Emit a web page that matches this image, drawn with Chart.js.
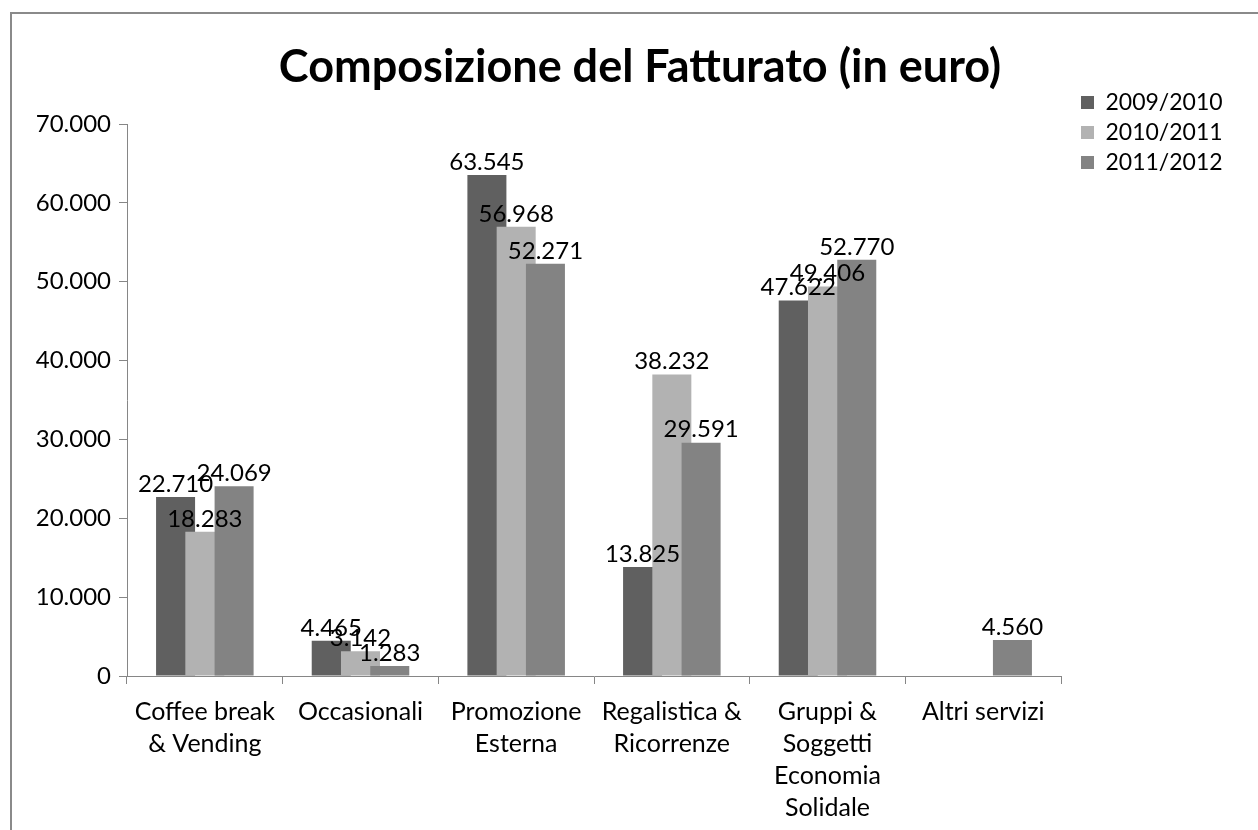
<!DOCTYPE html>
<html>
<head>
<meta charset="utf-8">
<script src="https://cdn.jsdelivr.net/npm/chart.js@4.4.1/dist/chart.umd.min.js"></script>
<style>
  html, body { margin: 0; padding: 0; background: #fff; overflow: hidden; }
  #wrap { position: relative; width: 1258px; height: 830px; }
  #frame { position: absolute; left: 10px; top: 12px; width: 1300px; height: 900px; border: 2px solid #8a8a8a; box-sizing: border-box; }
  canvas { position: absolute; left: 0; top: 0; }
</style>
</head>
<body>
<div id="wrap">
  <div id="frame"></div>
  <canvas id="c" width="1258" height="830"></canvas>
</div>
<script>
const chartTitle = 'Composizione del Fatturato (in euro)';
const categories = [
  ['Coffee break', '& Vending'],
  'Occasionali',
  ['Promozione', 'Esterna'],
  ['Regalistica &', 'Ricorrenze'],
  ['Gruppi &', 'Soggetti', 'Economia', 'Solidale'],
  'Altri servizi'
];
const seriesNames = ['2009/2010', '2010/2011', '2011/2012'];
const values2009 = [22710, 4465, 63545, 13825, 47622, null];
const values2010 = [18283, 3142, 56968, 38232, 49406, null];
const values2011 = [24069, 1283, 52271, 29591, 52770, 4560];
const yTicks = [0, 10000, 20000, 30000, 40000, 50000, 60000, 70000];

const seriesColors = ['#606060', '#b2b2b2', '#838383'];
const FONT = 'Lato';
const AXIS = '#868686';

function fmt(v) {
  return String(v).replace(/\B(?=(\d{3})+(?!\d))/g, '.');
}

const allSeries = [values2009, values2010, values2011];

// draw datasets in natural order so later series overlap earlier ones (as in Excel)
const drawOrderPlugin = {
  id: 'drawOrder',
  beforeDatasetsDraw(chart) {
    for (let i = 0; i < chart.data.datasets.length; i++) {
      const meta = chart.getDatasetMeta(i);
      if (!meta.hidden) meta.controller.draw();
    }
    return false;
  }
};

const labelPlugin = {
  id: 'valueLabels',
  afterDraw(chart) {
    const ctx = chart.ctx;
    ctx.save();
    ctx.font = '24px ' + FONT;
    ctx.fillStyle = '#000';
    ctx.textAlign = 'center';
    ctx.textBaseline = 'bottom';
    chart.data.datasets.forEach((ds, i) => {
      const meta = chart.getDatasetMeta(i);
      meta.data.forEach((el, j) => {
        const v = ds.data[j];
        if (v === null || v === undefined) return;
        ctx.fillText(fmt(v), el.x, el.y - 1);
      });
    });
    ctx.restore();
  }
};

const placePlugin = {
  id: 'place',
  afterLayout(chart) {
    const lg = chart.legend;
    if (lg) {
      const w = lg.width, h = lg.height;
      lg.left = 1074; lg.right = lg.left + w;
      lg.top = 84; lg.bottom = lg.top + h;
    }
    const tb = chart.titleBlock;
    if (tb) {
      tb.left = 22; tb.right = 1258;
    }
  }
};

new Chart(document.getElementById('c'), {
  type: 'bar',
  data: {
    labels: categories,
    datasets: allSeries.map((vals, i) => ({
      label: seriesNames[i],
      data: vals,
      backgroundColor: seriesColors[i],
      borderWidth: 0,
      categoryPercentage: 0.564,
      barPercentage: 1.333
    }))
  },
  options: {
    responsive: false,
    devicePixelRatio: 1,
    animation: false,
    layout: { padding: { left: 0, right: 197, top: 0, bottom: 0 } },
    plugins: {
      title: {
        display: true,
        text: chartTitle,
        color: '#000',
        font: { family: FONT, size: 45, weight: 'bold' },
        padding: { top: 40, bottom: 30 }
      },
      legend: {
        position: 'chartArea',
        align: 'start',
        labels: {
          color: '#000',
          font: { family: FONT, size: 23 },
          boxWidth: 13,
          boxHeight: 13,
          padding: 7
        }
      },
      tooltip: { enabled: false }
    },
    scales: {
      x: {
        grid: { display: true, offset: true, drawOnChartArea: false, drawTicks: true, tickLength: 8, color: AXIS },
        border: { color: AXIS },
        ticks: {
          color: '#000',
          font: { family: FONT, size: 25, lineHeight: 1.28 },
          maxRotation: 0,
          autoSkip: false,
          padding: 12
        },
        afterFit(scale) { scale.height = 154; }
      },
      y: {
        min: 0,
        max: 70000,
        afterBuildTicks(scale) { scale.ticks = yTicks.map(v => ({ value: v })); },
        grid: { display: true, drawOnChartArea: false, drawTicks: true, tickLength: 8, color: AXIS },
        border: { color: AXIS },
        ticks: {
          color: '#000',
          font: { family: FONT, size: 24 },
          padding: 8,
          callback: (v) => fmt(v)
        },
        afterFit(scale) { scale.width = 127; }
      }
    }
  },
  plugins: [drawOrderPlugin, labelPlugin, placePlugin]
});
</script>
</body>
</html>
